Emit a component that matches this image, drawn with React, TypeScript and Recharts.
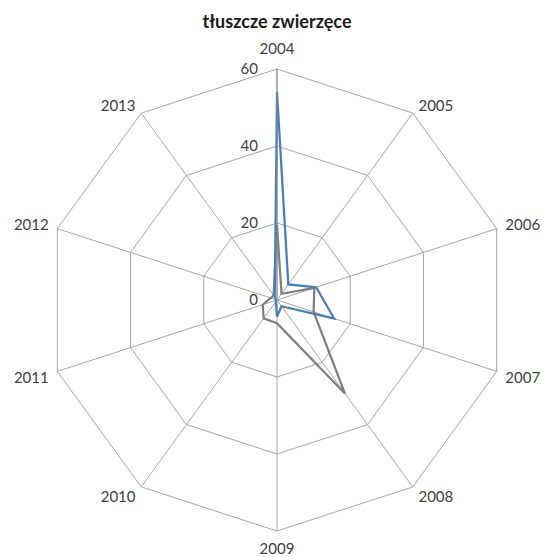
import { PolarAngleAxis, PolarGrid, PolarRadiusAxis, Radar, RadarChart } from 'recharts';

const years = ['2004', '2005', '2006', '2007', '2008', '2009', '2010', '2011', '2012', '2013'];
const blueValues = [54, 5, 10.7, 15.6, 2, 4.3, 0.5, 0.3, 0.3, 1];
const grayValues = [19.5, 2, 10.2, 10, 30, 6, 5.9, 3.9, 1.7, 1.5];
const radiusTicks = [0, 20, 40, 60];

const data = years.map((year, i) => ({
  year,
  blue: blueValues[i],
  gray: grayValues[i],
}));

const FONT = 'Lato, "Open Sans", sans-serif';
const CX = 277;
const CY = 300;

const AngleTick = (props: any) => {
  const { x, y, payload, textAnchor } = props;
  let dy = y > CY ? 3 : -2;
  if (textAnchor === 'middle') dy = y < CY ? -13 : 9;
  return (
    <text
      x={x + (textAnchor === 'start' ? 1 : textAnchor === 'end' ? -1 : 0)}
      y={y + dy}
      textAnchor={textAnchor}
      dominantBaseline='central'
      fontFamily={FONT}
      fontSize={15}
      fill='#404040'>
      {payload.value}
    </text>
  );
};

const RadiusTick = (props: any) => {
  const { x, y, payload } = props;
  return (
    <text
      x={x - 19}
      y={y - 1}
      textAnchor='end'
      dominantBaseline='central'
      fontFamily={FONT}
      fontSize={15}
      fill='#404040'>
      {payload.value}
    </text>
  );
};

const App = () => {
  return (
    <div style={{ position: 'absolute', left: 0, top: 0, width: 544, height: 557, background: '#fff' }}>
      <div
        style={{
          position: 'absolute',
          left: 0,
          top: 10,
          width: 554,
          textAlign: 'center',
          fontFamily: FONT,
          fontWeight: 'bold',
          fontSize: 18,
          color: '#1a1a1a',
        }}>
        tłuszcze zwierzęce
      </div>
      <RadarChart
        width={544}
        height={557}
        cx={CX}
        cy={CY}
        outerRadius={231}
        data={data}
        margin={{ top: 0, right: 0, bottom: 0, left: 0 }}>
        <PolarGrid gridType='polygon' stroke='#a6a6a6' strokeWidth={1} />
        <PolarAngleAxis dataKey='year' tick={<AngleTick />} tickLine={false} axisLine={false} />
        <PolarRadiusAxis
          angle={90}
          domain={[0, 60]}
          ticks={radiusTicks as any}
          tickCount={4}
          tick={<RadiusTick />}
          tickLine={false}
          axisLine={{ stroke: '#868686' }}
        />
        <Radar
          dataKey='gray'
          stroke='#7f7f7f'
          strokeWidth={2.25}
          fill='none'
          fillOpacity={0}
          dot={false}
          isAnimationActive={false}
        />
        <Radar
          dataKey='blue'
          stroke='#4a7ebb'
          strokeWidth={2.25}
          fill='none'
          fillOpacity={0}
          dot={false}
          isAnimationActive={false}
        />
      </RadarChart>
    </div>
  );
};

export default App;
